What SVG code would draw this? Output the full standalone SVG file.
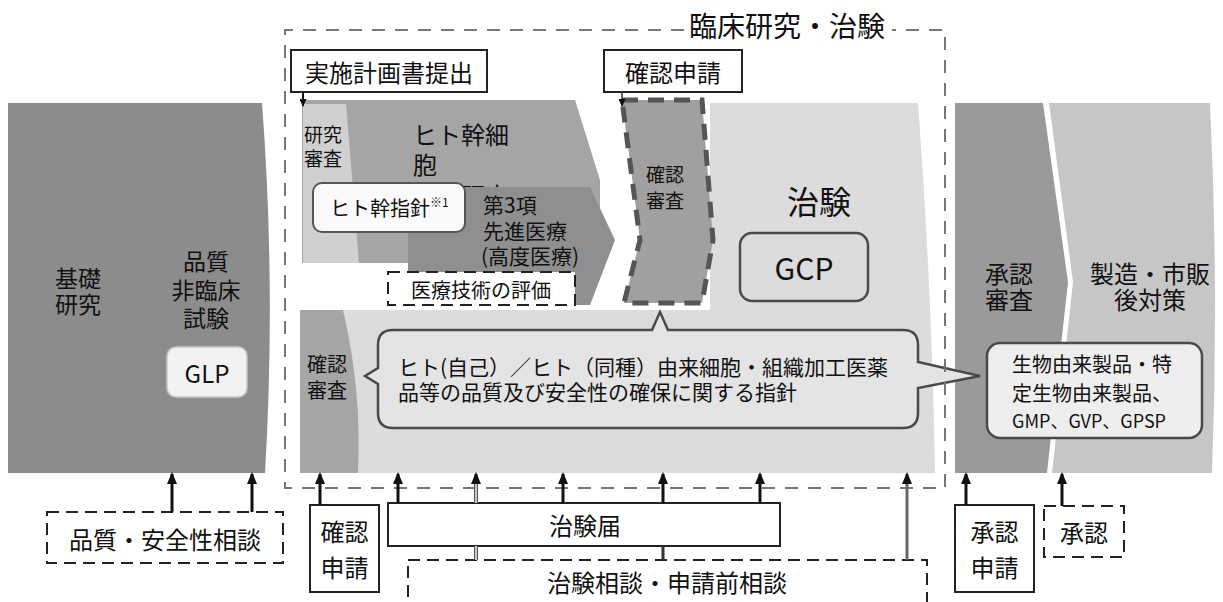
<svg xmlns="http://www.w3.org/2000/svg" width="1223" height="602" viewBox="0 0 1223 602">
<defs>
<style>
text{font-family:"Noto Sans CJK JP","Noto Sans",sans-serif;fill:#111;dominant-baseline:central}
.c{text-anchor:middle}
.box{fill:#fff;stroke:#222;stroke-width:2}
.dbox{fill:#fff;stroke:#222;stroke-width:2;stroke-dasharray:12 7}
.rbox{stroke:#4a4a4a;stroke-width:2.5}
.arr{stroke:#111;stroke-width:3;fill:none;marker-end:url(#ah)}
</style>
<marker id="ah" markerWidth="12" markerHeight="10" refX="10" refY="5" orient="auto" markerUnits="userSpaceOnUse"><path d="M0,0 L12,5 L0,10 z" fill="#111"/></marker>
<marker id="ahs" markerWidth="8" markerHeight="7" refX="7" refY="3.5" orient="auto" markerUnits="userSpaceOnUse"><path d="M0,0 L8,3.5 L0,7 z" fill="#111"/></marker>
</defs>
<rect width="1223" height="602" fill="#fff"/>

<g id="basic-research">
<path d="M8,103 L262,103 Q276,288 265,473 L8,473 Z" fill="#8c8c8c"/>
<text class="c" font-size="23"><tspan x="78" y="277">基礎</tspan><tspan x="78" y="303">研究</tspan></text>
<text class="c" font-size="23"><tspan x="206" y="260">品質</tspan><tspan x="206" y="289">非臨床</tspan><tspan x="206" y="317">試験</tspan></text>
<rect x="167" y="347" width="80" height="50" rx="9" fill="#f2f2f2" stroke="#c8c8c8" stroke-width="1.5"/>
<text x="207" y="372" class="c" font-size="24" font-family="Open Sans,Noto Sans,sans-serif">GLP</text>
</g>

<g id="trial-area">
<path d="M300,310 L710,310 L710,103 L918,103 Q932,290 935,473 L300,473 Z" fill="#dcdcdc"/>
<text x="819" y="200" class="c" font-size="32">治験</text>
<rect x="740" y="233" width="128" height="68" rx="12" fill="none" class="rbox"/>
<text x="804" y="267" class="c" font-size="30" font-family="Open Sans,Noto Sans,sans-serif">GCP</text>
</g>

<g id="review-confirm-bottom">
<path d="M300,310 L343,310 Q362,390 358,473 L300,473 Z" fill="#a6a6a6"/>
<text class="c" font-size="20"><tspan x="327" y="363">確認</tspan><tspan x="327" y="389">審査</tspan></text>
</g>

<g id="stem-cell-research">
<path d="M302,100 L575,100 L600,180 L600,263 L302,263 Z" fill="#a5a5a5"/>
<path d="M303,104 L346,104 L359,263 L303,263 Z" fill="#d0d0d0"/>
<text font-size="19"><tspan x="304" y="133">研究</tspan><tspan x="304" y="157">審査</tspan></text>
<text font-size="24"><tspan x="413" y="133">ヒト幹細</tspan><tspan x="413" y="163">胞</tspan><tspan x="413" y="194">臨床研究</tspan></text>
</g>

<g id="advanced-medicine">
<path d="M408,187 L590,187 L615,240 L590,305 L408,305 Z" fill="#8f8f8f"/>
<text font-size="21"><tspan x="483" y="204">第3項</tspan><tspan x="483" y="230">先進医療</tspan><tspan x="481" y="255">(高度医療)</tspan></text>
</g>

<g id="stem-guideline">
<rect x="313" y="183" width="152" height="49" rx="9" fill="#fafafa" stroke="#555" stroke-width="2"/>
<text x="330" y="207" font-size="20">ヒト幹指針<tspan font-size="12" dy="-6">※1</tspan></text>
</g>

<g id="medical-eval">
<rect x="388" y="272" width="187" height="33" class="dbox"/>
<text x="481" y="289" class="c" font-size="20">医療技術の評価</text>
</g>

<g id="review-confirm-top">
<path d="M622,100 L702,100 L713,240 L702,303 L624,303 L640,240 Z" fill="#a0a0a0" stroke="#555" stroke-width="5" stroke-dasharray="16 10"/>
<text class="c" font-size="19"><tspan x="665" y="173">確認</tspan><tspan x="665" y="199">審査</tspan></text>
</g>

<g id="approval-review">
<path d="M955,103 L1043,103 L1068,282 L1047,473 L955,473 Z" fill="#9a9a9a"/>
<text class="c" font-size="24"><tspan x="1009" y="272">承認</tspan><tspan x="1009" y="298">審査</tspan></text>
</g>

<g id="post-market">
<path d="M1049,103 L1210,103 Q1219,288 1212,473 L1052,473 L1073,282 Z" fill="#c6c6c6"/>
<text class="c" font-size="24"><tspan x="1150" y="272">製造・市販</tspan><tspan x="1150" y="298">後対策</tspan></text>
</g>

<g id="cell-guideline">
<path d="M393,330 L652,330 L660,312 L668,330 L903,330 Q918,330 918,345 L918,362 L980,376 L918,388 L918,413 Q918,428 903,428 L393,428 Q378,428 378,413 L378,384 L365,376 L378,368 L378,345 Q378,330 393,330 Z" fill="#e4e4e4" class="rbox"/>
<text font-size="21"><tspan x="398" y="366">ヒト(自己）／ヒト（同種）由来細胞・組織加工医薬</tspan><tspan x="398" y="391">品等の品質及び安全性の確保に関する指針</tspan></text>
</g>

<g id="bio-products">
<rect x="987" y="343" width="215" height="95" rx="13" fill="#eeeeee" class="rbox"/>
<text font-size="20"><tspan x="1012" y="363">生物由来製品・特</tspan><tspan x="1012" y="392">定生物由来製品、</tspan><tspan x="1012" y="420" font-size="18">GMP、GVP、GPSP</tspan></text>
</g>

<g id="clinical-frame">
<path d="M684,30 H285 V488 H945 V30 H892" fill="none" stroke="#777" stroke-width="2" stroke-dasharray="13 10"/>
<text x="787" y="25" class="c" font-size="28">臨床研究・治験</text>
</g>

<g id="protocol-submit">
<rect x="291" y="50" width="196" height="42" class="box"/>
<text x="389" y="71" class="c" font-size="24">実施計画書提出</text>
</g>

<g id="confirm-apply-top">
<rect x="604" y="50" width="138" height="42" class="box"/>
<text x="673" y="71" class="c" font-size="24">確認申請</text>
</g>

<g id="quality-consult">
<rect x="47" y="512" width="236" height="51" class="dbox"/>
<text x="165" y="538" class="c" font-size="24">品質・安全性相談</text>
</g>

<g id="confirm-apply-bottom">
<rect x="310" y="505" width="69" height="87" class="box"/>
<text class="c" font-size="24"><tspan x="344.5" y="530">確認</tspan><tspan x="344.5" y="566">申請</tspan></text>
</g>

<g id="trial-notice">
<rect x="388" y="503" width="392" height="43" class="box"/>
<text x="585" y="524" class="c" font-size="24">治験届</text>
</g>

<g id="trial-consult">
<rect x="408" y="560" width="519" height="60" class="dbox"/>
<text x="667" y="581" class="c" font-size="24">治験相談・申請前相談</text>
</g>

<g id="approval-apply">
<rect x="955" y="505" width="79" height="87" class="box"/>
<text class="c" font-size="24"><tspan x="994.5" y="530">承認</tspan><tspan x="994.5" y="566">申請</tspan></text>
</g>

<g id="approval">
<rect x="1044" y="506" width="80" height="51" class="dbox"/>
<text x="1084" y="531" class="c" font-size="24">承認</text>
</g>

<g id="connectors">
<line x1="303" y1="92" x2="303" y2="106" stroke="#111" stroke-width="2" marker-end="url(#ahs)"/>
<line x1="622" y1="92" x2="622" y2="106" stroke="#333" stroke-width="1.5" marker-end="url(#ahs)"/>
<line x1="172" y1="512" x2="172" y2="474" class="arr"/>
<line x1="252" y1="512" x2="252" y2="474" class="arr"/>
<line x1="320" y1="505" x2="320" y2="474" class="arr"/>
<line x1="398" y1="503" x2="398" y2="474" class="arr"/>
<line x1="476" y1="503" x2="476" y2="476" stroke="#555" stroke-width="4"/>
<line x1="476" y1="503" x2="476" y2="476" stroke="#eee" stroke-width="1.5"/>
<line x1="476" y1="480" x2="476" y2="474" class="arr"/>
<line x1="563" y1="503" x2="563" y2="474" class="arr"/>
<line x1="663" y1="503" x2="663" y2="474" class="arr"/>
<line x1="760" y1="503" x2="760" y2="474" class="arr"/>
<line x1="907" y1="560" x2="907" y2="474" stroke="#666" stroke-width="3" marker-end="url(#ah)"/>
<line x1="476" y1="546" x2="476" y2="560" stroke="#555" stroke-width="4"/>
<line x1="476" y1="546" x2="476" y2="560" stroke="#eee" stroke-width="1.5"/>
<line x1="663" y1="546" x2="663" y2="560" stroke="#333" stroke-width="3"/>
<line x1="966" y1="505" x2="966" y2="474" class="arr"/>
<line x1="1062" y1="506" x2="1062" y2="474" class="arr"/>
</g>
</svg>
